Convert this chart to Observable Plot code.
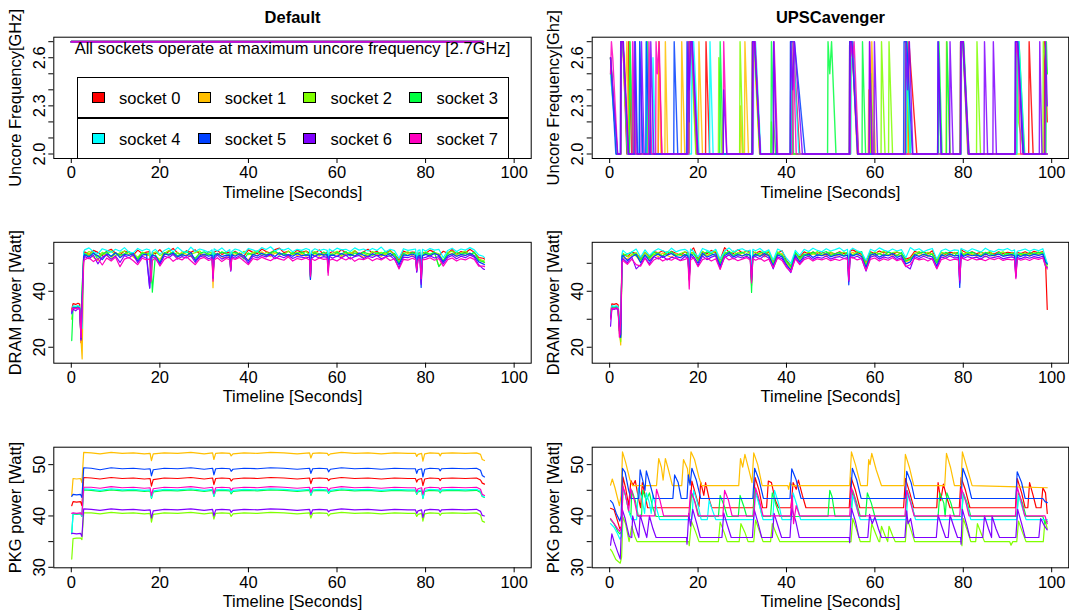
<!DOCTYPE html>
<html><head><meta charset="utf-8">
<script src="https://cdn.jsdelivr.net/npm/d3@7"></script>
<script src="https://cdn.jsdelivr.net/npm/@observablehq/plot@0.6"></script>
<style>
html,body{margin:0;padding:0;background:#fff;}
#wrap{position:relative;width:1069px;height:611px;overflow:hidden;font-family:"Liberation Sans",Arial,Helvetica,sans-serif;color:#000;}
.pan{position:absolute;}
.pan svg{overflow:visible;display:block;}
.legbox{position:absolute;box-sizing:border-box;border:1px solid #000;background:#fff;}
.sw{position:absolute;box-sizing:border-box;border:1px solid #000;width:13px;height:11px;}
.lt{position:absolute;font-size:16.5px;line-height:20px;white-space:nowrap;}
</style></head><body><div id="wrap"></div>
<script>
// ---------------- categories / styling data ----------------
const sockets = ["socket 0","socket 1","socket 2","socket 3","socket 4","socket 5","socket 6","socket 7"];
const colors = ["#FF0000","#FFBF00","#80FF00","#00FF40","#00FFFF","#0040FF","#8000FF","#FF00BF"];
const panelTitles = ["Default","UPSCavenger"];
const xLabel = "Timeline [Seconds]";
const xTicks = [0,20,40,60,80,100];
const uncTicks = [2.0,2.1,2.2,2.3,2.4,2.5,2.6,2.7];
const uncTickLabels = {"2":"2.0","2.3":"2.3","2.6":"2.6"};
const dramTicks = [20,30,40,50];
const dramTickLabels = {"20":"20","40":"40"};
const pkgTicks = [30,35,40,45,50];
const pkgTickLabels = {"30":"30","40":"40","50":"50"};
const note = "All sockets operate at maximum uncore frequency [2.7GHz]";

// ---------------- Uncore frequency, Default (all at 2.7 GHz) ----------------
const uncDefTime = [0, 93];
const uncDefVals = [[2.7,2.7],[2.7,2.7],[2.7,2.7],[2.7,2.7],[2.7,2.7],[2.7,2.7],[2.7,2.7],[2.7,2.7]];

// ---------------- Uncore frequency, UPSCavenger ([t, GHz]) ----------------
const uncUps0 = [[0.2,2.6],[1.6,2.0],[2.5,2.0],[2.6,2.7],[3.0,2.7],[3.9,2.0],[4.2,2.0],[4.3,2.7],[5.0,2.0],[11.0,2.0],[11.1,2.7],[11.8,2.0],[17.9,2.0],[18.0,2.7],[18.5,2.7],[19.7,2.0],[21.7,2.0],[21.8,2.7],[22.6,2.0],[32.2,2.0],[32.3,2.7],[32.7,2.7],[34.0,2.0],[40.9,2.0],[41.0,2.7],[41.5,2.7],[43.0,2.0],[54.2,2.0],[54.3,2.7],[54.8,2.7],[56.2,2.0],[67.6,2.0],[67.7,2.7],[69.5,2.0],[79.3,2.0],[79.4,2.7],[79.9,2.7],[81.2,2.0],[91.8,2.0],[91.9,2.7],[92.4,2.7],[93.6,2.0],[94.8,2.0],[94.9,2.7],[95.8,2.0],[98.3,2.0],[98.4,2.7],[99.0,2.2]];
const uncUps1 = [[0.2,2.5],[1.8,2.0],[2.5,2.0],[2.6,2.7],[3.0,2.7],[3.5,2.3],[3.9,2.7],[4.4,2.0],[5.3,2.0],[5.4,2.4],[5.9,2.0],[11.0,2.0],[11.1,2.7],[11.6,2.0],[12.5,2.0],[12.6,2.7],[13.1,2.0],[16.2,2.0],[16.3,2.7],[17.0,2.0],[17.9,2.0],[18.0,2.7],[18.4,2.7],[19.6,2.0],[20.1,2.0],[20.2,2.7],[21.0,2.0],[29.5,2.0],[29.6,2.3],[30.0,2.0],[30.5,2.0],[30.6,2.7],[31.4,2.0],[32.2,2.0],[32.3,2.7],[32.6,2.7],[33.9,2.0],[54.3,2.0],[54.4,2.7],[54.8,2.7],[56.0,2.0],[58.5,2.0],[58.6,2.4],[59.0,2.0],[59.2,2.0],[59.3,2.7],[60.1,2.0],[66.8,2.0],[66.9,2.7],[67.6,2.0],[76.1,2.0],[76.2,2.7],[77.0,2.0],[79.3,2.0],[79.4,2.7],[79.9,2.7],[81.0,2.0],[99.0,2.0]];
const uncUps2 = [[0.2,2.6],[1.7,2.0],[2.5,2.0],[2.6,2.7],[3.0,2.7],[4.2,2.0],[4.4,2.0],[4.5,2.7],[5.2,2.0],[17.8,2.0],[17.9,2.7],[18.4,2.7],[19.5,2.0],[24.6,2.0],[24.7,2.6],[25.4,2.0],[29.4,2.0],[29.5,2.7],[30.2,2.0],[32.3,2.0],[32.4,2.7],[32.8,2.7],[34.0,2.0],[36.5,2.0],[36.6,2.2],[37.0,2.0],[54.4,2.0],[54.5,2.7],[54.9,2.7],[56.2,2.0],[59.0,2.0],[59.1,2.5],[59.8,2.0],[61.4,2.0],[61.5,2.7],[62.3,2.0],[63.1,2.0],[63.2,2.7],[64.0,2.0],[67.2,2.0],[67.3,2.7],[68.0,2.0],[79.4,2.0],[79.5,2.7],[80.0,2.7],[81.2,2.0],[83.0,2.0],[83.1,2.7],[83.9,2.0],[92.0,2.0],[92.1,2.7],[92.5,2.2],[93.8,2.0],[98.0,2.0],[98.1,2.7],[99.0,2.5]];
const uncUps3 = [[0.2,2.6],[1.6,2.0],[2.5,2.0],[2.6,2.7],[3.0,2.7],[4.0,2.0],[4.5,2.0],[4.6,2.7],[5.3,2.0],[8.5,2.0],[8.6,2.7],[9.3,2.0],[17.9,2.0],[18.0,2.7],[18.5,2.7],[19.8,2.0],[24.9,2.0],[25.0,2.7],[25.7,2.0],[32.3,2.0],[32.4,2.7],[32.8,2.7],[34.0,2.0],[36.5,2.0],[36.6,2.7],[37.1,2.2],[37.6,2.0],[41.1,2.0],[41.2,2.7],[41.6,2.0],[49.3,2.0],[49.4,2.7],[49.8,2.5],[50.2,2.7],[51.2,2.0],[54.5,2.0],[54.6,2.7],[55.0,2.7],[56.3,2.0],[57.1,2.0],[57.2,2.7],[57.9,2.0],[67.1,2.0],[67.2,2.7],[68.0,2.0],[74.4,2.0],[74.5,2.7],[75.2,2.0],[76.2,2.0],[76.3,2.7],[77.0,2.0],[79.5,2.0],[79.6,2.7],[80.1,2.7],[81.3,2.0],[92.1,2.0],[92.2,2.7],[92.6,2.7],[93.9,2.0],[98.7,2.0],[98.8,2.7],[99.0,2.5]];
const uncUps4 = [[0.2,2.5],[1.7,2.0],[2.5,2.0],[2.6,2.7],[3.0,2.7],[4.1,2.0],[6.7,2.0],[6.8,2.7],[7.5,2.0],[8.2,2.0],[8.3,2.7],[9.0,2.0],[9.7,2.0],[9.8,2.6],[10.4,2.0],[18.5,2.0],[18.6,2.7],[19.0,2.7],[20.2,2.0],[22.6,2.0],[22.7,2.7],[23.4,2.0],[32.5,2.0],[32.6,2.7],[33.0,2.7],[34.2,2.0],[37.0,2.0],[37.1,2.7],[37.9,2.0],[41.0,2.0],[41.1,2.7],[41.5,2.7],[42.8,2.0],[54.5,2.0],[54.6,2.7],[55.0,2.7],[56.2,2.0],[67.1,2.0],[67.2,2.7],[68.0,2.0],[79.5,2.0],[79.6,2.7],[80.0,2.7],[81.2,2.0],[92.1,2.0],[92.2,2.7],[92.6,2.7],[93.8,2.0],[99.0,2.0]];
const uncUps5 = [[0.2,2.6],[1.4,2.0],[2.4,2.0],[2.5,2.7],[3.0,2.7],[4.2,2.0],[5.7,2.0],[5.8,2.7],[6.3,2.0],[6.7,2.0],[6.8,2.7],[7.5,2.0],[8.2,2.0],[8.3,2.7],[9.0,2.0],[14.5,2.0],[14.6,2.7],[15.4,2.0],[17.4,2.0],[17.5,2.7],[18.0,2.2],[18.2,2.7],[18.6,2.7],[19.9,2.0],[32.2,2.0],[32.3,2.7],[32.8,2.7],[34.1,2.0],[40.8,2.0],[40.9,2.7],[41.8,2.7],[44.2,2.0],[54.2,2.0],[54.3,2.7],[54.8,2.7],[56.1,2.0],[66.5,2.0],[66.6,2.7],[67.2,2.7],[68.5,2.0],[74.2,2.0],[74.3,2.7],[75.0,2.0],[79.3,2.0],[79.4,2.7],[79.9,2.7],[81.1,2.0],[91.7,2.0],[91.8,2.7],[92.3,2.7],[93.5,2.0],[99.0,2.0]];
const uncUps6 = [[0.2,2.6],[1.8,2.0],[2.5,2.0],[2.6,2.7],[3.1,2.7],[4.3,2.0],[5.5,2.0],[5.6,2.7],[6.2,2.0],[7.1,2.0],[7.2,2.7],[7.8,2.0],[9.2,2.0],[9.3,2.7],[10.0,2.0],[17.6,2.0],[17.7,2.7],[18.0,2.4],[18.4,2.7],[18.7,2.7],[20.0,2.0],[25.7,2.0],[25.8,2.4],[26.5,2.0],[32.3,2.0],[32.4,2.7],[32.8,2.7],[34.1,2.0],[37.0,2.0],[37.1,2.7],[37.8,2.0],[40.9,2.0],[41.0,2.7],[41.4,2.4],[41.8,2.7],[43.6,2.0],[54.3,2.0],[54.4,2.7],[54.8,2.7],[56.1,2.0],[58.7,2.0],[58.8,2.7],[59.3,2.0],[59.8,2.0],[59.9,2.7],[60.6,2.0],[66.9,2.0],[67.0,2.7],[67.4,2.4],[67.8,2.7],[68.6,2.0],[74.2,2.0],[74.3,2.7],[75.0,2.0],[76.9,2.0],[77.0,2.7],[77.7,2.0],[79.4,2.0],[79.5,2.7],[80.0,2.7],[81.3,2.0],[84.7,2.0],[84.8,2.7],[85.5,2.0],[86.7,2.0],[86.8,2.7],[87.5,2.0],[91.7,2.0],[91.8,2.7],[92.3,2.7],[93.7,2.0],[97.2,2.0],[97.3,2.7],[97.8,2.0],[98.5,2.0],[98.6,2.7],[99.0,2.3]];
const uncUps7 = [[0.2,2.5],[0.4,2.7],[0.7,2.6],[1.8,2.0],[2.5,2.0],[2.6,2.7],[3.0,2.7],[4.2,2.0],[5.1,2.0],[5.2,2.7],[5.8,2.0],[8.8,2.0],[8.9,2.7],[9.5,2.0],[10.4,2.0],[10.5,2.7],[10.8,2.5],[11.2,2.7],[11.8,2.0],[17.9,2.0],[18.0,2.7],[18.5,2.7],[19.8,2.0],[25.7,2.0],[25.8,2.7],[26.5,2.0],[32.4,2.0],[32.5,2.7],[32.9,2.7],[34.1,2.0],[37.1,2.0],[37.2,2.7],[38.0,2.0],[41.4,2.0],[41.5,2.7],[42.2,2.0],[54.4,2.0],[54.5,2.7],[55.0,2.6],[55.3,2.7],[56.3,2.0],[58.7,2.0],[58.8,2.7],[59.5,2.0],[79.4,2.0],[79.5,2.7],[80.0,2.7],[81.2,2.0],[91.8,2.0],[91.9,2.7],[92.4,2.6],[93.0,2.0],[99.0,2.0]];

// ---------------- DRAM power, Default (W) ----------------
const dramDefTime = [0.1,0.4,1.0,1.5,1.9,2.2,2.45,2.8,
 3,4,5,6,7,8,9,10,11,12,13,14,15,16,17, 17.7,18.0,18.3,
 19,20,21,22,23,24,25,26,27,28,29,30,31, 31.8,32.0,32.25, 33,34,35, 35.8,36.0,36.25,
 37,38,39,40,41,42,43,44,45,46,47,48,49,50,51,52,53, 53.8,54.0,54.25, 55,56,57, 57.8,58.0,58.25,
 59,60,61,62,63,64,65,66,67,68,69,70,71,72,73,74,75,76,77, 77.75,78.0,78.3,78.75,79.0,79.3,
 80,81,82,83,84,85,86,87,88,89,90,91,92,93, 93.3];
const dramDef0 = [33.5,35.6,35.3,35.7,35.4,21.6,35.0,53.5,
 54.1,53.2,54.6,53.9,52.8,54.3,55.0,53.6,53.1,54.4,53.8,52.9,54.7,53.5,54.0, 54.2,46.0,53.8,
 53.4,54.9,53.0,54.2,55.3,53.7,52.9,54.5,53.9,54.8,53.3,52.7,54.1, 53.6,47.5,54.0, 54.6,53.2,53.8, 54.0,49.5,53.5,
 54.3,53.1,52.6,54.8,53.9,53.4,55.1,54.2,53.6,54.9,55.4,53.8,54.3,53.2,54.7,53.9,54.4, 53.7,47.0,54.2, 53.5,54.8,53.1, 54.0,49.0,53.6,
 54.2,53.4,54.9,53.7,52.8,54.5,53.3,54.1,55.0,53.6,54.3,52.9,53.8,54.6,53.2,51.2,54.4,53.7,54.0, 53.9,49.8,53.5,53.8,46.5,54.0,
 53.5,54.7,53.9,52.8,54.3,53.6,54.9,53.1,54.2,53.7,55.0,53.9,52.0,51.8, 51.5];
const dramDef1 = [33.0,34.4,34.2,34.5,34.3,22.5,15.8,52.0,
 52.4,53.6,52.1,51.0,53.4,52.8,51.6,53.9,52.5,53.1,54.0,52.2,51.3,53.5,52.7, 52.9,44.5,53.3,
 52.6,51.4,53.8,52.9,53.5,52.0,54.2,53.1,52.4,51.5,53.7,52.8,53.3, 52.5,41.3,52.9, 53.6,52.3,51.8, 52.7,48.0,53.2,
 52.9,53.8,52.1,51.2,53.4,52.6,54.1,53.0,52.4,53.7,52.9,53.5,52.2,53.9,52.7,53.3,52.5, 53.1,45.5,52.8, 53.4,52.5,53.9, 52.6,48.5,53.0,
 52.8,53.6,52.3,53.2,54.0,52.7,53.4,52.0,53.6,52.9,53.3,52.4,53.8,52.6,53.1,50.2,52.9,53.5,52.7, 52.4,48.3,53.0,52.8,43.2,52.6,
 53.3,52.7,53.8,49.0,51.0,52.9,53.6,52.4,53.2,52.8,53.7,52.6,51.2,50.5, 50.2];
const dramDef2 = [30.0,34.5,34.3,34.6,34.2,26.0,40.0,52.5,
 53.0,54.2,53.6,52.4,53.9,53.1,54.5,52.7,53.8,54.3,52.9,53.6,52.1,54.0,53.4, 53.7,43.0,53.2,
 54.1,52.8,53.5,54.6,53.0,53.9,52.6,54.2,53.3,53.8,54.4,52.5,53.6, 54.0,45.5,53.4, 52.8,54.1,53.5, 53.2,48.5,54.0,
 53.6,52.9,54.3,53.1,53.8,54.5,52.7,53.9,53.3,54.1,53.6,52.8,54.4,53.2,53.9,53.5,54.2, 53.0,45.8,53.6, 54.2,53.3,52.9, 53.8,48.8,53.1,
 53.5,54.3,52.8,53.9,53.4,54.6,53.0,53.7,52.6,54.2,53.5,53.9,53.1,54.4,52.9,50.5,53.6,54.1,53.3, 53.7,48.2,53.4,53.0,45.0,53.5,
 54.1,53.2,53.9,53.4,51.0,53.8,54.3,53.0,53.7,54.4,53.1,53.8,51.5,51.0, 50.8];
const dramDef3 = [22.4,34.3,34.1,34.4,34.0,25.0,42.0,52.4,
 53.5,52.6,53.9,51.5,53.2,54.1,52.3,53.7,52.9,53.4,54.2,52.8,51.6,53.6,53.1, 53.4,53.0,39.7,
 52.9,50.5,53.8,53.2,54.0,52.7,53.5,54.3,52.8,51.8,53.6,54.1,53.0, 53.3,45.0,53.7, 52.9,54.0,53.4, 53.1,47.8,53.6,
 54.0,53.2,51.5,53.7,52.9,54.2,53.4,52.8,53.9,54.4,53.1,53.6,52.7,53.8,53.3,54.1,52.9, 53.5,44.2,53.0, 53.8,52.9,54.0, 53.2,48.0,53.5,
 52.8,53.9,53.3,54.2,52.6,53.7,53.1,54.0,53.4,52.9,53.8,53.2,54.3,52.7,53.5,50.0,53.6,52.8,53.9, 53.2,47.5,53.7,53.4,46.0,52.9,
 53.8,53.1,54.0,48.8,50.8,53.5,52.8,54.1,53.3,53.7,52.9,54.0,51.0,50.6, 50.3];
const dramDef4 = [31.9,34.8,34.6,34.9,34.5,27.0,26.7,54.0,
 54.8,55.5,54.1,53.4,55.2,54.6,53.9,55.0,54.3,55.6,54.0,53.7,55.3,54.5,55.1, 54.7,45.5,54.2,
 55.0,53.2,54.6,55.4,54.1,55.7,54.4,53.8,55.8,54.2,55.1,54.6,53.9, 54.8,46.5,55.2, 54.4,55.5,54.0, 54.9,49.0,54.3,
 55.1,54.6,53.5,55.3,54.8,54.2,55.6,54.9,55.9,54.4,55.2,54.7,55.4,54.1,55.0,54.6,55.3, 54.8,46.5,54.3, 55.2,54.5,55.0, 54.6,50.0,55.1,
 54.3,55.4,54.8,55.0,54.2,55.5,54.7,55.1,54.4,55.3,54.6,55.8,54.1,55.0,54.5,51.8,55.2,54.6,54.9, 55.1,50.0,54.6,54.8,47.0,55.0,
 54.4,55.3,54.7,55.0,52.0,54.6,55.4,54.2,55.1,54.7,55.6,54.8,53.0,52.5, 52.0];
const dramDef5 = [32.5,34.2,34.0,34.3,33.9,23.0,38.0,52.5,
 53.1,52.2,53.6,52.7,51.3,53.4,52.5,53.8,52.0,53.2,52.8,53.5,50.8,52.9,53.3, 41.1,52.4,53.0,
 52.6,50.0,53.4,52.9,53.7,52.3,53.1,52.6,53.9,51.0,52.7,53.3,52.5, 52.9,44.8,52.6, 53.5,52.4,52.9, 52.8,47.5,53.1,
 52.5,53.4,52.7,50.8,53.2,52.6,53.6,52.9,53.3,52.4,53.8,52.8,53.1,52.5,53.5,52.7,53.0, 52.8,44.2,53.2, 52.5,53.4,52.9, 53.1,47.5,52.6,
 53.0,52.4,53.5,52.8,53.2,52.5,53.7,52.9,52.3,53.4,52.7,53.1,52.6,53.6,52.2,49.5,53.0,52.7,53.3, 52.8,47.0,52.5,52.9,41.4,52.7,
 53.2,52.6,53.5,52.9,50.5,52.7,53.4,52.5,53.1,52.8,53.6,52.7,50.5,49.8, 49.5];
const dramDef6 = [32.0,33.6,33.0,33.8,33.5,22.5,36.0,51.5,
 52.4,51.6,52.9,49.8,52.2,53.0,51.4,52.6,50.3,52.8,51.9,53.1,50.2,52.5,51.8, 41.3,51.9,52.4,
 51.7,49.5,52.6,52.0,53.2,51.5,52.4,51.9,52.8,50.3,52.3,52.7,51.6, 52.1,44.5,51.8, 52.9,51.5,52.3, 52.0,47.2,52.4,
 51.8,52.7,52.1,50.0,52.5,51.9,52.8,52.3,53.1,51.6,52.6,52.0,52.9,51.7,52.4,52.2,51.9, 52.3,45.0,51.7, 52.6,51.9,52.4, 52.1,46.8,52.5,
 51.8,52.6,52.0,52.9,51.5,52.4,52.8,51.7,52.5,52.1,52.9,51.6,52.3,52.7,51.4,48.5,52.2,52.0,52.6, 51.9,46.8,52.3,52.0,42.5,51.8,
 52.1,52.7,51.9,52.4,49.8,52.1,52.8,51.6,52.5,52.0,53.0,52.2,49.5,48.0, 47.8];
const dramDef7 = [33.0,34.0,33.8,34.1,33.7,23.5,34.0,50.5,
 51.3,52.0,50.6,51.7,49.4,51.9,50.8,52.2,48.8,51.5,52.1,50.9,49.5,51.8,51.2, 51.6,43.5,51.0,
 52.0,49.0,51.4,52.3,50.7,51.8,51.2,52.4,50.9,49.5,51.6,52.1,51.0, 51.5,43.6,51.2, 52.0,50.6,51.7, 51.3,47.5,51.8,
 51.4,52.1,50.8,49.5,51.7,51.2,52.2,51.5,50.9,52.0,51.6,51.1,52.3,50.8,51.7,51.3,51.9, 51.2,45.5,51.6, 51.0,51.9,51.4, 51.6,45.7,51.1,
 51.5,50.8,51.9,51.2,52.1,50.7,51.6,51.3,52.0,50.9,51.7,51.2,52.2,51.0,51.6,48.0,51.4,51.1,51.8, 51.3,47.5,51.0,51.5,44.5,51.2,
 51.4,52.0,51.1,51.7,49.0,51.3,51.9,50.8,51.6,51.2,52.1,51.4,49.0,49.0, 48.8];

// ---------------- DRAM power, UPSCavenger (W) ----------------
const dramUpsTime = [0.2,0.5,1.0,1.5,1.9,2.2,2.5,2.8,
 3,4,5,6,7,8,9,10,11,12,13,14,15,16,17, 17.7,18.0,18.3,
 19,20,21,22,23,24,25,26,27,28,29,30,31, 31.8,32.1,32.4,
 33,34,35,36,37,38,39,40,41,42,43,44,45,46,47,48,49,50,51,52,53, 53.8,54.1,54.4,
 55,56,57,58,59,60,61,62,63,64,65,66,67,68,69,70,71,72,73,74,75,76,77,78, 78.9,79.2,79.5,
 80,81,82,83,84,85,86,87,88,89,90,91, 91.6,91.9,92.2, 93,94,95,96,97,98, 98.6,99.0];
const dramUps0 = [32.0,35.5,35.3,35.6,35.2,30.0,28.0,53.0,
 53.2,52.4,54.0,53.5,51.8,53.9,52.5,54.2,53.7,54.5,53.1,54.3,53.6,52.9,54.0, 53.8,47.0,54.4,
 55.5,51.5,54.1,53.4,54.6,53.8,51.2,55.6,54.0,53.5,54.9,53.7,54.4, 53.9,45.0,54.2,
 53.6,54.3,52.9,54.0,50.5,53.7,54.5,51.0,49.0,53.4,52.2,54.1,53.3,54.0,53.6,54.2,53.0,53.8,53.4,54.1,53.5, 53.7,47.0,54.3,
 54.8,53.9,53.2,50.5,54.1,53.5,54.4,53.7,54.2,53.1,54.0,53.4,51.5,52.0,54.3,53.6,54.1,53.3,54.5,51.0,53.9,53.2,54.0,53.6, 53.9,48.0,54.9,
 54.3,53.6,54.1,53.4,54.0,53.2,53.8,53.3,54.1,53.5,53.9,53.7, 53.6,48.5,53.9, 53.5,54.1,53.3,54.3,53.7,54.2, 51.0,33.5];
const dramUps1 = [31.0,34.4,34.2,34.5,34.0,26.0,20.8,51.5,
 52.0,51.5,53.2,52.6,50.5,53.0,51.2,53.4,52.3,53.7,52.8,52.1,53.5,52.7,53.1, 52.5,44.0,53.2,
 54.0,50.5,53.3,52.6,53.8,52.4,49.5,54.0,53.2,52.7,53.9,52.5,53.4, 53.0,43.5,53.3,
 52.7,53.5,52.3,53.1,49.5,52.9,53.6,50.0,48.0,52.7,51.0,53.2,52.4,53.4,52.8,53.0,52.5,53.3,52.6,53.1,52.8, 52.9,46.0,53.4,
 53.9,53.0,52.5,49.8,53.3,52.7,53.6,52.9,53.2,52.4,53.1,52.6,50.5,51.2,53.4,52.8,53.2,52.5,53.5,50.0,53.0,52.4,53.2,52.7, 52.9,46.5,54.0,
 53.4,52.7,53.2,52.5,53.1,52.3,52.9,52.6,53.3,52.7,53.0,52.8, 52.6,47.5,53.0, 52.7,53.3,52.5,53.4,52.9,53.5, 50.5,49.5];
const dramUps2 = [31.0,34.3,34.0,34.4,34.1,25.0,22.0,52.0,
 53.6,52.4,52.9,53.8,51.2,54.0,52.0,53.1,53.9,52.6,54.2,53.4,52.8,53.5,54.1, 53.1,45.0,53.7,
 53.9,51.0,54.3,52.8,53.4,54.5,50.2,54.1,53.0,54.4,52.9,53.7,54.2, 53.4,42.0,53.6,
 54.0,52.8,53.6,54.3,50.0,54.1,52.9,50.5,48.5,53.8,51.5,52.9,54.0,53.3,54.2,52.8,53.7,54.1,52.9,53.5,54.0, 53.3,46.0,53.8,
 53.0,54.2,53.6,49.5,52.8,54.0,53.3,54.4,52.9,53.8,54.1,53.2,51.0,51.6,53.5,54.2,52.9,53.9,53.1,50.5,54.0,53.4,52.8,53.9, 53.3,47.0,54.5,
 53.1,54.0,53.4,52.8,53.9,53.5,54.2,52.9,53.6,54.1,53.0,53.7, 53.0,48.0,53.4, 53.1,53.7,52.9,53.8,53.3,53.9, 50.0,48.8];
const dramUps3 = [31.0,34.5,34.3,34.6,34.2,26.0,24.0,52.5,
 52.5,53.4,53.9,52.7,51.2,52.9,51.8,54.0,53.1,52.6,53.7,54.1,52.8,53.3,52.5, 53.6,45.5,52.9,
 53.4,51.2,52.8,54.1,53.5,52.6,50.0,53.2,54.3,52.9,53.6,54.0,52.7, 53.5,39.6,53.0,
 52.6,53.8,54.1,52.9,49.5,53.6,52.8,50.8,48.8,54.0,51.8,53.3,52.6,54.1,52.9,53.6,54.2,52.8,53.4,53.9,52.7, 53.9,45.5,53.2,
 52.7,53.6,54.2,48.5,53.9,52.8,53.5,52.6,54.0,53.4,52.7,53.9,50.8,51.5,52.9,53.7,54.1,52.6,53.3,50.2,52.8,53.9,53.4,52.7, 54.0,46.5,53.6,
 52.8,53.5,54.0,53.2,52.6,53.9,53.3,52.7,54.0,52.9,53.6,53.1, 53.8,47.0,52.9, 53.6,52.8,53.9,53.2,54.0,53.4, 50.8,49.5];
const dramUps4 = [31.5,34.9,34.6,34.8,34.5,30.0,26.0,53.5,
 54.6,53.2,54.0,55.1,52.2,54.8,52.8,54.3,55.2,54.5,53.8,55.4,54.1,54.7,55.0, 54.3,47.5,55.1,
 54.2,52.3,55.3,54.6,53.9,55.0,51.5,54.4,55.5,54.0,54.8,55.2,54.3, 54.7,46.0,55.0,
 54.5,55.3,54.0,54.8,51.2,55.1,54.3,51.8,50.0,54.6,52.8,55.0,54.2,55.4,54.6,54.1,55.2,54.4,54.9,55.5,54.3, 55.0,48.0,54.6,
 55.4,54.5,53.9,51.0,55.0,54.3,55.5,54.7,54.2,55.1,54.4,54.9,52.0,55.6,54.6,55.2,54.1,54.8,55.3,51.5,54.5,55.1,54.3,54.8, 54.6,48.5,55.3,
 54.9,54.2,55.2,54.6,54.0,55.4,54.5,54.1,55.0,54.7,55.3,54.4, 54.8,49.0,54.3, 54.6,55.1,54.3,55.0,54.5,55.2, 52.0,50.0];
const dramUps5 = [30.5,34.0,33.8,34.1,33.7,27.0,23.5,52.5,
 52.8,51.0,52.3,53.2,50.2,53.0,50.8,52.5,53.4,52.1,52.9,53.5,52.4,52.0,53.1, 52.6,44.5,53.3,
 52.4,50.0,53.6,52.2,52.9,53.4,49.0,52.7,53.8,52.3,53.1,52.6,53.3, 52.8,44.0,52.5,
 53.2,52.4,53.5,52.7,49.0,53.0,52.3,49.5,47.5,52.9,50.5,52.6,53.3,52.1,53.0,52.7,53.4,52.3,52.9,53.2,52.5, 52.9,42.3,53.4,
 52.6,53.3,52.4,48.5,52.9,53.4,52.2,53.0,52.7,53.5,52.1,52.8,49.8,50.5,53.1,52.4,53.2,52.7,52.3,49.0,53.0,52.5,53.3,52.6, 52.8,41.4,53.6,
 52.4,53.2,52.7,53.0,52.3,53.4,52.6,52.9,53.3,52.5,52.8,53.1, 52.6,45.5,52.9, 52.4,53.1,52.6,53.2,52.8,53.3, 50.5,49.8];
const dramUps6 = [27.5,33.8,33.5,33.8,33.4,26.0,24.5,51.5,
 51.6,50.2,52.3,48.0,49.5,52.0,49.8,52.4,51.5,52.6,51.2,52.2,51.7,51.0,52.4, 52.0,44.0,52.5,
 51.8,49.2,52.6,51.3,52.2,52.7,48.2,52.1,53.0,51.6,52.4,51.9,52.5, 51.7,43.8,52.2,
 52.4,51.5,52.8,51.9,48.0,52.3,51.6,48.8,46.7,52.1,49.8,51.9,52.5,51.4,52.2,51.8,52.6,51.5,52.1,52.4,51.7, 52.0,43.5,52.6,
 51.9,52.5,51.6,47.2,52.2,52.7,51.5,52.3,51.8,52.6,51.4,52.0,49.0,48.0,52.4,51.7,52.5,51.9,51.5,48.2,52.3,51.8,52.6,51.9, 52.0,43.0,52.8,
 51.7,52.4,51.9,52.2,51.5,52.6,51.8,52.1,52.5,51.6,52.0,52.3, 51.8,45.0,52.1, 51.6,52.3,51.8,52.4,52.0,52.5, 49.0,48.5];
const dramUps7 = [30.0,34.0,33.7,34.1,33.8,23.6,29.0,50.5,
 51.0,49.6,51.5,49.5,49.0,51.8,49.3,51.2,52.0,50.8,51.6,51.1,52.1,50.9,51.4, 51.8,40.8,51.2,
 52.0,48.8,51.3,51.9,50.8,51.6,47.8,52.4,51.2,51.8,50.9,51.5,52.0, 51.2,43.0,51.7,
 51.1,51.8,50.7,51.5,48.5,51.9,51.0,48.5,47.0,51.6,49.5,51.3,51.9,50.8,51.6,51.2,51.8,50.9,51.5,51.0,51.7, 51.4,44.0,51.9,
 52.1,51.2,51.7,47.5,51.4,51.9,50.8,51.6,51.1,52.0,50.9,51.5,48.8,49.5,51.8,51.2,51.6,50.8,51.7,48.0,51.3,51.8,51.0,51.5, 51.2,44.0,52.2,
 51.6,51.0,51.8,51.2,51.5,50.9,51.7,51.3,51.9,51.0,51.5,51.2, 51.4,44.5,51.7, 51.1,51.6,51.0,51.8,51.4,51.9, 49.0,48.0];

// ---------------- PKG power, Default (W) ----------------
const pkgDefTime = [0.1,0.4,1.2,2.1,2.4,2.8, 4.5,6.5,9,11.5,14,16.5, 17.8,18.1,18.5, 21,24,27,30, 31.9,32.2,32.6, 34, 35.8,36.1,36.5,
 39,42,45,48,51, 53.8,54.1,54.5, 56, 57.8,58.1,58.5, 61,64,67,70,73,76, 77.7,78.0,78.3, 79.1,79.4,79.8, 81, 83,83.3,83.6, 86,89, 91.5,92.4,92.8,93.3];
const pkgDef0 = [42.0,42.8,42.7,42.8,42.0,47.5, 47.4,47.2,47.5,47.3,47.4,47.2, 47.3,45.8,47.1, 47.4,47.3,47.5,47.2, 47.4,46.1,47.3, 47.4, 47.3,46.8,47.2,
 47.4,47.3,47.5,47.4,47.2, 47.4,46.3,47.3, 47.4, 47.3,46.9,47.2, 47.5,47.3,47.4,47.2,47.4,47.3, 47.3,46.6,47.1, 47.3,45.9,47.2, 47.4, 47.3,46.9,47.3, 47.4,47.3, 47.4,47.0,46.4,46.2];
const pkgDef1 = [44.0,47.3,47.2,47.3,46.5,52.4, 52.3,52.1,52.4,52.2,52.3,52.1, 52.2,50.8,52.1, 52.3,52.2,52.4,52.1, 52.3,51.0,52.2, 52.3, 52.2,51.7,52.1,
 52.3,52.2,52.4,52.3,52.1, 52.3,51.3,52.2, 52.3, 52.2,51.8,52.1, 52.4,52.2,52.3,52.1,52.3,52.2, 52.2,51.6,52.0, 52.2,50.7,52.1, 52.3, 52.2,51.7,52.2, 52.3,52.2, 52.3,52.0,51.0,50.8];
const pkgDef2 = [31.6,35.6,35.7,35.7,35.4,40.6, 40.6,40.4,40.7,40.5,40.6,40.4, 40.5,38.8,40.3, 40.6,40.5,40.7,40.4, 40.6,39.4,40.5, 40.6, 40.5,39.9,40.4,
 40.6,40.5,40.7,40.6,40.4, 40.6,39.6,40.5, 40.6, 40.5,40.0,40.4, 40.7,40.5,40.6,40.4,40.6,40.5, 40.5,39.9,40.3, 40.5,39.0,40.4, 40.6, 40.5,40.1,40.5, 40.6,40.5, 40.6,40.2,39.0,38.8];
const pkgDef3 = [36.6,40.4,40.3,40.4,39.9,45.1, 45.0,44.8,45.1,44.9,45.0,44.8, 44.9,43.4,44.7, 45.0,44.9,45.1,44.8, 45.0,43.8,44.9, 45.0, 44.9,44.3,44.8,
 45.0,44.9,45.1,45.0,44.8, 45.0,44.0,44.9, 45.0, 44.9,44.4,44.8, 45.1,44.9,45.0,44.8,45.0,44.9, 44.9,44.2,44.7, 44.9,43.4,44.8, 45.0, 44.9,44.5,44.9, 45.0,44.9, 45.0,44.6,43.8,43.6];
const pkgDef4 = [36.5,40.5,40.4,40.5,40.0,45.3, 45.2,45.0,45.3,45.1,45.2,45.0, 45.1,43.5,44.9, 45.2,45.1,45.3,45.0, 45.2,43.9,45.1, 45.2, 45.1,44.6,45.0,
 45.2,45.1,45.3,45.2,45.0, 45.2,44.2,45.1, 45.2, 45.1,44.5,45.0, 45.3,45.1,45.2,45.0,45.2,45.1, 45.1,44.4,44.9, 45.1,43.5,45.0, 45.2, 45.1,44.7,45.1, 45.2,45.1, 45.2,44.8,43.9,43.7];
const pkgDef5 = [43.8,44.2,44.1,44.2,43.6,49.4, 49.3,49.0,49.4,49.2,49.3,49.1, 49.2,47.8,49.0, 49.3,49.2,49.4,49.1, 49.3,48.0,49.2, 49.3, 49.2,48.7,49.1,
 49.3,49.2,49.4,49.3,49.1, 49.3,48.3,49.2, 49.3, 49.2,48.6,49.1, 49.4,49.2,49.3,49.1,49.3,49.2, 49.2,48.3,49.0, 49.2,47.6,49.1, 49.3, 49.2,48.8,49.2, 49.3,49.2, 49.3,48.9,47.9,47.6];
const pkgDef6 = [36.6,36.6,36.5,36.6,36.0,41.4, 41.3,41.1,41.4,41.2,41.3,41.1, 41.2,39.6,41.0, 41.3,41.2,41.4,41.1, 41.3,40.0,41.2, 41.3, 41.2,40.7,41.1,
 41.3,41.2,41.4,41.3,41.1, 41.3,40.3,41.2, 41.3, 41.2,40.8,41.1, 41.4,41.2,41.3,41.1,41.3,41.2, 41.2,40.5,41.0, 41.2,39.7,41.1, 41.3, 41.2,40.8,41.2, 41.3,41.2, 41.3,40.9,40.1,40.0];
const pkgDef7 = [40.5,40.6,40.5,40.6,40.2,45.6, 45.6,45.4,45.7,45.5,45.6,45.4, 45.5,44.0,45.3, 45.6,45.5,45.7,45.4, 45.6,44.3,45.5, 45.6, 45.5,45.0,45.4,
 45.6,45.5,45.7,45.6,45.4, 45.6,44.6,45.5, 45.6, 45.5,44.9,45.4, 45.7,45.5,45.6,45.4,45.6,45.5, 45.5,44.7,45.3, 45.5,44.2,45.4, 45.6, 45.5,45.1,45.5, 45.6,45.5, 45.6,45.2,44.2,44.0];

// ---------------- PKG power, UPSCavenger ([t, W]) ----------------
const pkgUps0 = [[0.2,41.5],[1.0,41.2],[1.8,39],[2.3,37.5],[2.7,38],[3.0,47.6],[3.6,45.5],[4.3,42],[4.8,46.9],[5.3,46.0],[5.8,46.9],[6.5,43.5],[7.0,41.6],[7.4,46.5],[8.0,44],[8.6,41.6],[18.2,41.6],[18.6,46.8],[19.5,44],[20.2,41.8],[20.6,46.6],[21.3,44],[21.7,46.5],[22.6,43],[23.1,41.6],[32.5,41.6],[32.9,47.5],[33.8,45],[34.6,41.6],[35.5,41.6],[35.9,46.8],[36.6,46.5],[37.5,43],[38.2,41.6],[41.0,41.6],[41.5,46.5],[42.2,45.2],[42.7,47.0],[43.6,44],[44.4,41.6],[54.2,41.6],[54.6,47.5],[55.6,45],[56.6,41.6],[66.5,41.6],[66.9,47.3],[67.9,44.5],[68.8,41.6],[74.0,41.6],[74.3,46.5],[74.9,43],[75.5,46.2],[76.3,43.5],[77.0,41.6],[79.1,41.6],[79.5,47.5],[80.5,45],[81.5,41.6],[91.8,41.6],[92.2,47.3],[93.2,44.5],[94.0,41.6],[94.6,41.6],[95.0,46.5],[95.8,44],[96.5,41.6],[97.6,41.6],[98.0,45.5],[98.6,44.5],[99.0,40.5]];
const pkgUps1 = [[0.2,46.0],[0.6,47.2],[1.2,45.5],[2.2,42.0],[2.6,44],[2.9,52.5],[3.6,50.5],[4.6,47],[5.2,45.9],[10.6,45.9],[11.1,51.2],[11.7,49.5],[12.1,47.0],[12.6,51.2],[13.3,49],[14.2,45.9],[16.3,45.9],[16.7,51.0],[17.6,49.2],[17.9,46.5],[18.4,52.5],[19.2,51],[20.2,47.5],[20.8,45.9],[29.2,45.9],[29.6,51.2],[30.1,49.5],[30.6,52.0],[31.5,49.0],[32.2,46.5],[32.6,52.3],[33.5,50],[34.5,45.9],[40.3,45.9],[40.5,45.2],[40.8,46.5],[41.3,45.9],[54.3,45.9],[54.7,52.5],[55.6,50],[56.8,45.9],[58.3,45.9],[58.6,51.0],[58.9,50],[59.3,52.2],[60.3,49],[61.5,45.9],[66.6,45.9],[66.9,52.0],[67.8,49.5],[68.8,45.9],[75.8,45.9],[76.2,52.2],[77.1,49.5],[78.0,45.9],[79.5,45.9],[79.8,52.5],[80.8,49.5],[82.0,45.9],[99.0,45.5]];
const pkgUps2 = [[0.2,33.5],[0.6,33.0],[1.4,31.5],[2.4,30.8],[2.7,32],[3.0,39.8],[3.6,38.5],[4.4,35],[5.0,38.0],[5.7,36],[6.2,35.0],[17.9,35.0],[18.0,34.2],[18.5,39.0],[19.4,37],[20.2,35.0],[24.6,35.0],[25.0,38.8],[25.9,36.8],[26.6,35.0],[29.3,35.0],[29.7,38.5],[30.6,36.8],[31.3,35.0],[32.6,35.0],[33.0,39.2],[33.9,37],[34.7,35.0],[36.4,35.0],[36.8,38.5],[37.7,36.5],[38.5,35.0],[54.6,35.0],[55.0,39.5],[55.9,37.2],[56.7,35.0],[58.9,35.0],[59.3,38.5],[60.2,36.5],[60.9,35.0],[61.1,35.0],[61.5,38.0],[62.3,36.2],[62.9,35.0],[63.2,38.0],[64.0,36.2],[64.6,35.0],[66.9,35.0],[67.3,39.5],[68.2,37.2],[69.0,35.0],[79.6,35.0],[79.7,34.2],[80.0,39.5],[80.9,37.2],[81.7,35.0],[82.8,35.0],[83.2,38.5],[84.1,36.5],[84.8,35.0],[90.5,35.0],[90.8,34.3],[91.2,35.0],[92.1,35.0],[92.5,39.0],[93.4,36.8],[94.2,35.0],[98.1,35.0],[98.5,39.3],[99.0,37.5]];
const pkgUps3 = [[0.2,39.3],[1.0,38.5],[1.8,37],[2.3,36.5],[2.7,37],[3.0,45.5],[3.6,44],[4.3,41],[4.8,39.9],[5.0,45.0],[5.8,43],[6.5,39.9],[7.2,39.9],[7.5,45.0],[8.3,43],[9.0,44.5],[9.8,41.5],[10.5,39.9],[18.1,39.9],[18.5,44.5],[19.4,42.5],[20.2,39.9],[24.6,39.9],[25.0,44.0],[25.9,42],[26.6,39.9],[29.1,39.9],[29.5,44.0],[30.3,42],[31.0,39.9],[32.4,39.9],[32.8,45.3],[33.7,43],[34.5,39.9],[36.4,39.9],[36.8,44.5],[37.7,42],[38.5,39.9],[49.4,39.9],[49.8,45.0],[50.3,43.8],[51.0,39.9],[54.6,39.9],[55.0,45.0],[55.9,42.5],[56.7,39.9],[57.9,39.9],[58.3,44.5],[59.2,42.5],[60.0,39.9],[66.9,39.9],[67.3,45.0],[68.2,42.5],[69.0,39.9],[74.3,39.9],[74.7,44.5],[75.6,42.5],[75.9,39.9],[76.3,44.5],[77.2,42.5],[78.0,39.9],[79.6,39.9],[80.0,44.5],[80.9,42.5],[81.7,39.9],[92.1,39.9],[92.5,44.5],[93.4,42.5],[94.2,39.9],[98.0,39.9],[98.5,38.5],[99.0,39.0]];
const pkgUps4 = [[0.2,38.5],[1.0,37.8],[1.8,36.5],[2.3,35.5],[2.7,36],[3.0,45.5],[3.6,44],[4.3,41],[5.0,39.3],[6.1,39.3],[6.5,45.5],[7.3,43.5],[7.9,40.5],[8.3,44.5],[9.0,42.5],[9.4,40.5],[9.8,44.0],[10.6,41.5],[11.3,39.3],[18.6,39.3],[19.0,45.0],[19.9,42.5],[20.7,39.3],[22.1,39.3],[22.5,43.0],[23.3,41],[24.0,39.3],[32.6,39.3],[33.0,44.5],[33.9,42],[34.7,39.3],[36.9,39.3],[37.3,45.0],[38.2,42.5],[39.0,39.3],[41.1,39.3],[41.5,44.5],[42.4,42],[43.2,39.3],[54.6,39.3],[55.0,44.0],[55.9,41.5],[56.7,39.3],[67.1,39.3],[67.5,44.5],[68.4,42],[69.2,39.3],[79.6,39.3],[80.0,44.5],[80.9,42],[81.7,39.3],[92.1,39.3],[92.5,44.0],[93.4,41.5],[94.2,39.3],[99.0,39.3]];
const pkgUps5 = [[0.2,43.0],[0.7,42.5],[1.5,40.5],[2.3,39.0],[2.6,40],[2.9,49.3],[3.5,48.5],[4.3,45],[4.8,43.4],[6.6,43.4],[6.9,49.0],[7.6,46.5],[8.0,45],[8.3,48.8],[9.2,46],[10.0,43.4],[14.3,43.4],[14.7,48.0],[15.5,46.5],[16.2,43.4],[17.5,43.4],[17.8,48.0],[18.2,46],[18.6,49.3],[19.6,47],[20.6,43.4],[32.4,43.4],[32.8,49.3],[33.8,47],[34.8,43.4],[40.8,43.4],[41.2,49.2],[42.2,47],[43.3,43.4],[54.5,43.4],[54.9,49.3],[55.9,47],[56.9,43.4],[66.9,43.4],[67.2,48.7],[68.2,46.5],[69.0,43.4],[79.5,43.4],[79.9,49.3],[80.9,47],[81.9,43.4],[91.9,43.4],[92.2,48.6],[93.2,46.5],[94.0,43.4],[98.0,43.4],[98.5,42.8],[99.0,42.6]];
const pkgUps6 = [[0.2,34.3],[0.5,36.5],[1.0,35],[1.8,33],[2.4,31.6],[2.8,41.4],[3.5,39.5],[4.4,36],[5.0,35.8],[5.2,40.0],[6.0,37.5],[6.6,35.8],[6.9,40.2],[7.7,37.8],[8.4,35.8],[9.0,40.0],[9.8,37.5],[10.5,35.8],[17.4,35.8],[17.5,34.5],[17.9,40.5],[18.3,38],[18.8,41.3],[19.7,38.5],[20.5,35.8],[25.4,35.8],[25.8,40.6],[26.7,38],[27.5,35.8],[32.3,35.8],[32.7,41.3],[33.6,38.5],[34.4,35.8],[36.8,35.8],[37.2,40.5],[38.1,38],[38.9,35.8],[40.8,35.8],[41.2,41.5],[42.1,39],[42.9,35.8],[54.2,35.8],[54.3,34.8],[54.7,41.5],[55.6,39],[56.4,35.8],[58.4,35.8],[58.8,40.3],[59.4,38.5],[60.0,39.8],[60.8,37.5],[61.5,35.8],[66.8,35.8],[67.2,41.0],[67.5,38.5],[68.1,39.5],[68.9,35.8],[73.9,35.8],[74.3,40.2],[75.2,37.8],[76.0,35.8],[76.6,35.8],[77.0,40.2],[77.9,37.8],[78.7,35.8],[79.4,35.8],[79.5,34.5],[79.8,41.3],[80.7,38.5],[81.5,35.8],[84.4,35.8],[84.8,40.0],[85.7,37.5],[86.4,35.8],[86.5,40.0],[87.4,37.5],[88.2,35.8],[91.9,35.8],[92.3,41.3],[93.2,38.5],[94.0,35.8],[97.1,35.8],[97.5,39.5],[98.4,38],[99.0,37.3]];
const pkgUps7 = [[0.2,39.5],[1.0,38.5],[1.8,37.5],[2.3,37.0],[2.7,38],[3.0,45.8],[3.6,44],[4.3,41],[4.8,45.3],[5.6,43],[6.3,40.0],[10.2,40.0],[10.6,45.2],[11.4,43],[12.2,40.0],[17.9,40.0],[18.3,45.0],[19.2,43],[20.0,40.0],[25.6,40.0],[26.0,45.0],[26.9,43],[27.7,40.0],[32.6,40.0],[33.0,45.5],[33.9,43],[34.7,40.0],[40.9,40.0],[41.3,44.0],[41.6,38.5],[42.2,42],[43.0,40.0],[54.3,40.0],[54.7,45.5],[55.6,43],[56.4,40.0],[66.8,40.0],[67.2,45.0],[68.1,42.5],[68.9,40.0],[79.2,40.0],[79.6,45.3],[80.5,43],[81.3,40.0],[91.8,40.0],[92.2,45.6],[93.1,43],[93.9,40.0],[98.5,40.0],[99.0,38.5]];

// ---------------- helpers ----------------
const FONT = "'Liberation Sans', Arial, Helvetica, sans-serif";
const FS = 16.5;
const xDomain = [-3.95, 103.85];
const cols = [{left:0,width:534,mL:53.3,mR:3.3},{left:534,width:535,mL:57.7,mR:0.8}];
const rowsG = [{top:0,height:204,mT:36.7,mB:46},{top:204,height:204,mT:37.8,mB:45.3},{top:408,height:203,mT:38.7,mB:43.7}];

function fromTime(time, vals){
  if (time.length !== vals.length) console.warn("length mismatch", time.length, vals.length);
  const n = Math.min(time.length, vals.length);
  const out = []; for (let i=0;i<n;i++) out.push({t:time[i], v:vals[i]}); return out;
}
function fromPairs(p){ return p.map(([t,v])=>({t,v})); }

function panel({col,row,yDomain,yTicks,yLabels,ylabel,series,order,sw=1.2,op=1,extra=[]}){
  const c = cols[col], r = rowsG[row];
  const ord = order || [0,1,2,3,4,5,6,7];
  const lineMarks = ord.map(i => Plot.line(series[i], {x:"t", y:"v", stroke: colors[i], strokeWidth: sw, strokeOpacity: op}));
  const marks = [
    ...lineMarks,
    Plot.frame({stroke:"#000", strokeWidth:1}),
    Plot.axisX({ticks: xTicks, tickSize: 5, tickPadding: 3, tickFormat: d => String(d), label: null, fontSize: FS}),
    Plot.axisY({ticks: yTicks, tickSize: 5, tickPadding: 4, tickRotate: -90, tickFormat: d => (yLabels[String(d)] ?? ""), label: null, fontSize: FS}),
    Plot.text([xLabel], {frameAnchor:"bottom", dy: 34, text: d=>d, fontSize: FS, lineAnchor:"middle", textAnchor:"middle"}),
    Plot.text([ylabel], {frameAnchor:"left", dx: -38, rotate: -90, text: d=>d, fontSize: FS, lineAnchor:"middle", textAnchor:"middle"}),
    ...extra
  ];
  if (row === 0) marks.push(Plot.text([panelTitles[col]], {frameAnchor:"top", dy:-19.7, text:d=>d, fontSize: FS, fontWeight:"bold", lineAnchor:"middle", textAnchor:"middle"}));
  const svg = Plot.plot({
    width: c.width, height: r.height,
    marginLeft: c.mL, marginRight: c.mR, marginTop: r.mT, marginBottom: r.mB,
    x: {domain: xDomain, axis: null},
    y: {domain: yDomain, axis: null},
    style: {fontSize: FS+"px", fontFamily: FONT, background: "transparent", color: "#000", overflow:"visible"},
    marks
  });
  const d = document.createElement("div");
  d.className = "pan";
  d.style.left = c.left+"px"; d.style.top = r.top+"px";
  d.appendChild(svg);
  document.getElementById("wrap").appendChild(d);
}

const uncDomain = [1.972, 2.728];
const dramDomain = [14.3, 57.5];
const pkgDomain = [29.9, 53.4];

// Row 1: uncore frequency
panel({col:0,row:0,yDomain:uncDomain,yTicks:uncTicks,yLabels:uncTickLabels,ylabel:"Uncore Frequency[GHz]",
  series: uncDefVals.map(v=>fromTime(uncDefTime, v)), sw:2, op:0.7,
  extra:[Plot.text([note], {frameAnchor:"top", dy: 12, text:d=>d, fontSize: FS, lineAnchor:"middle", textAnchor:"middle"})]});
panel({col:1,row:0,yDomain:uncDomain,yTicks:uncTicks,yLabels:uncTickLabels,ylabel:"Uncore Frequency[Ghz]",
  series:[uncUps0,uncUps1,uncUps2,uncUps3,uncUps4,uncUps5,uncUps6,uncUps7].map(fromPairs), sw:1.4, op:0.85, order:[0,1,2,3,4,5,7,6]});

// Row 2: DRAM power
panel({col:0,row:1,yDomain:dramDomain,yTicks:dramTicks,yLabels:dramTickLabels,ylabel:"DRAM power [Watt]",
  series:[dramDef0,dramDef1,dramDef2,dramDef3,dramDef4,dramDef5,dramDef6,dramDef7].map(v=>fromTime(dramDefTime, v))});
panel({col:1,row:1,yDomain:dramDomain,yTicks:dramTicks,yLabels:dramTickLabels,ylabel:"DRAM power [Watt]",
  series:[dramUps0,dramUps1,dramUps2,dramUps3,dramUps4,dramUps5,dramUps6,dramUps7].map(v=>fromTime(dramUpsTime, v))});

// Row 3: PKG power
panel({col:0,row:2,yDomain:pkgDomain,yTicks:pkgTicks,yLabels:pkgTickLabels,ylabel:"PKG power [Watt]",
  series:[pkgDef0,pkgDef1,pkgDef2,pkgDef3,pkgDef4,pkgDef5,pkgDef6,pkgDef7].map(v=>fromTime(pkgDefTime, v))});
panel({col:1,row:2,yDomain:pkgDomain,yTicks:pkgTicks,yLabels:pkgTickLabels,ylabel:"PKG power [Watt]",
  series:[pkgUps0,pkgUps1,pkgUps2,pkgUps3,pkgUps4,pkgUps5,pkgUps6,pkgUps7].map(fromPairs)});

// Legend (two stacked boxes in the Default uncore panel)
(function(){
  const wrap = document.getElementById("wrap");
  const boxes = [{top:77, h:41}, {top:117.5, h:41.5}];
  boxes.forEach((b, bi) => {
    const box = document.createElement("div");
    box.className = "legbox";
    box.style.left = "76.5px"; box.style.top = b.top+"px";
    box.style.width = "432px"; box.style.height = b.h+"px";
    wrap.appendChild(box);
    const cy = bi === 0 ? 97.5 : 138.5;
    for (let k=0;k<4;k++){
      const i = bi*4 + k;
      const sw = document.createElement("div");
      sw.className = "sw"; sw.style.background = colors[i];
      sw.style.left = (91.7 + k*105.8)+"px"; sw.style.top = (cy-5.5)+"px";
      wrap.appendChild(sw);
      const t = document.createElement("div");
      t.className = "lt"; t.textContent = sockets[i];
      t.style.left = (119 + k*105.8)+"px"; t.style.top = (cy-10)+"px";
      wrap.appendChild(t);
    }
  });
})();
</script></body></html>
